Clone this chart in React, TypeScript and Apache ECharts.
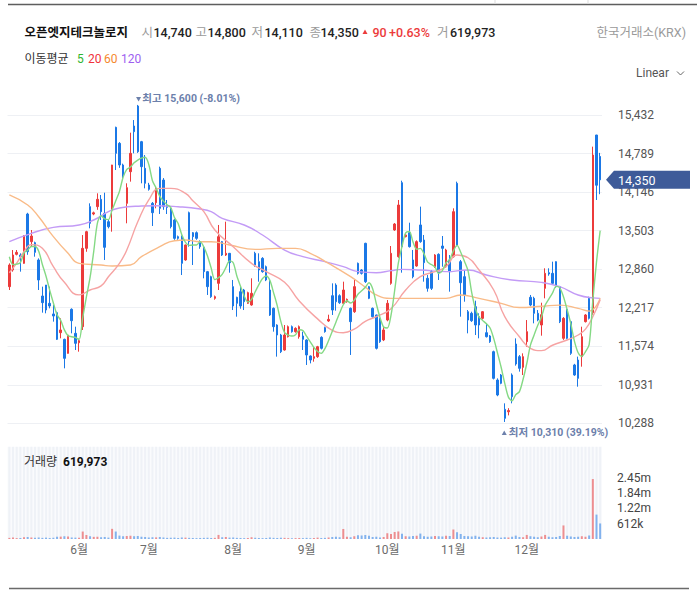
import React, { useEffect, useRef } from 'react';
import * as echarts from 'echarts';

// ---- data ----
const stockName = '오픈엣지테크놀로지';
const exchangeName = '한국거래소(KRX)';
const startDate = '2025-05-02';
const endDate = '2025-12-30';
const holidays = ['2025-05-05', '2025-05-06', '2025-06-03', '2025-06-06', '2025-08-15', '2025-10-03', '2025-10-06', '2025-10-07', '2025-10-08', '2025-10-09', '2025-12-25'];

const preCloses = [13750, 13100, 12950, 12600];

const opens = [
  12568, 12846, 13107, 13096, 12957, 13780, 13319, 13302, 13013, 12412,
  12595, 12290, 12112, 12134, 11800, 11689, 11455, 12190, 11789, 11633,
  11900, 13207, 13903, 13780, 13903, 14025, 13791, 13652, 13847, 15226,
  14959, 14598, 13958, 14486, 15248, 15582, 14987, 14542, 14264, 13958,
  13969, 14542, 14347, 13913, 13874, 13680, 13402, 13413, 13013, 13802,
  13468, 13468, 13319, 13224, 12818, 12734, 12373, 12623, 13319, 13096,
  13124, 12568, 12390, 12484, 12512, 12290, 12262, 13124, 12985, 13040,
  12901, 12512, 12206, 11928, 11761, 11511, 11733, 11900, 11817, 11733,
  11745, 11678, 11411, 11372, 11400, 11722, 11884, 11995, 12417, 12595,
  12417, 12290, 12317, 12206, 12150, 12957, 12846, 13291, 12568, 12206,
  12095, 12039, 11679, 12011, 12623, 13513, 13068, 14303, 13402, 13468,
  13013, 12913, 13597, 13346, 12707, 12818, 12901, 13107, 13246, 12901,
  13013, 13068, 14292, 12985, 12734, 12150, 12123, 12234, 12067, 12039,
  11800, 11745, 11483, 11010, 11094, 10521, 10480, 11094, 11611, 11400,
  11222, 11650, 12390, 12373, 12123, 11928, 12540, 12801, 12790, 12985,
  12568, 11706, 12190, 11984, 11261, 11344, 11400, 11984, 12373, 12134,
  15098, 14740,
];
const closes = [
  12929, 13096, 13140, 13068, 13418, 13152, 13413, 13140, 12679, 12301,
  12178, 12245, 12078, 11689, 11845, 11372, 11761, 12000, 11622, 11667,
  13207, 13485, 13625, 13800, 14025, 13819, 13224, 13569, 14598, 14792,
  14598, 14414, 14219, 14792, 15154, 14820, 14570, 14292, 14192, 13802,
  14203, 13875, 13903, 13891, 13569, 13374, 13374, 12957, 13263, 13319,
  13402, 13374, 13235, 12818, 12568, 12401, 12401, 13402, 13096, 13124,
  12968, 12245, 12290, 12245, 12317, 12468, 12457, 12929, 12846, 12818,
  12679, 12095, 11900, 11761, 11483, 11761, 11900, 11817, 11872, 11900,
  11689, 11428, 11344, 11400, 11566, 11539, 11817, 12022, 12178, 12317,
  12300, 12512, 12356, 11984, 12568, 12790, 12790, 12651, 12373, 12067,
  11539, 11650, 11845, 12290, 13124, 13613, 13930, 13235, 13430, 13235,
  12734, 13319, 13319, 12968, 12540, 12540, 13096, 12801, 13207, 13179,
  12818, 13819, 13263, 12634, 12429, 12011, 12000, 11928, 11928, 12150,
  11733, 11650, 11038, 10760, 10955, 10371, 10500, 10732, 11277, 11205,
  11400, 11817, 12262, 12123, 12011, 12100, 12790, 12779, 12623, 12568,
  11984, 12039, 11706, 11455, 11094, 11038, 11733, 12095, 12039, 14764,
  14260, 14350,
];
const lows = [
  12512, 12818, 13090, 12818, 12950, 13100, 13235, 13068, 12512, 12134,
  12123, 12206, 11984, 11678, 11706, 11205, 11450, 11789, 11511, 11483,
  11845, 13150, 13541, 13760, 13850, 13680, 13013, 13540, 13485, 14514,
  14550, 14350, 13625, 14320, 14792, 14800, 14292, 14208, 14170, 13580,
  13875, 13780, 13850, 13780, 13540, 13350, 13350, 12762, 13000, 13235,
  12929, 13350, 13200, 12707, 12429, 12380, 12350, 12512, 13080, 13080,
  12801, 12178, 12067, 12200, 12178, 12280, 12250, 12900, 12651, 12800,
  12660, 12080, 11817, 11400, 11460, 11500, 11720, 11800, 11800, 11700,
  11511, 11261, 11288, 11316, 11380, 11520, 11800, 11980, 12095, 12167,
  12280, 12270, 12300, 11428, 12130, 12770, 12770, 12630, 12360, 12050,
  11520, 11630, 11660, 11990, 12600, 13500, 13050, 12801, 13390, 13220,
  12707, 12900, 13300, 12651, 12484, 12512, 12880, 12679, 12901, 12880,
  12484, 13050, 13240, 12067, 12317, 11789, 11980, 11761, 11706, 12020,
  11720, 11630, 11020, 10740, 10940, 10310, 10420, 10621, 11250, 11150,
  11094, 11566, 12240, 11956, 11990, 11750, 12373, 12750, 12600, 12550,
  11960, 11680, 11690, 11430, 11080, 10899, 11233, 11970, 12020, 12100,
  14014, 14110,
];
const highs = [
  12957, 13179, 13179, 13124, 13429, 13800, 13513, 13319, 13040, 12568,
  12595, 12568, 12262, 12150, 12039, 11700, 11761, 12206, 11900, 11700,
  13429, 13500, 13958, 13820, 14125, 14097, 14136, 13680, 14600, 15237,
  14980, 14620, 14292, 15137, 15348, 15600, 15000, 14764, 14300, 13980,
  14236, 14570, 14380, 14014, 13900, 13700, 13420, 13420, 13270, 13820,
  13480, 13490, 13340, 13230, 12830, 12750, 12420, 13597, 13330, 13652,
  13130, 12679, 12400, 12568, 12530, 12484, 12707, 13150, 13124, 13060,
  12920, 12679, 12220, 11940, 11780, 11928, 11920, 11920, 11890, 11920,
  11817, 11690, 11420, 11566, 11580, 11740, 11900, 12100, 12623, 12623,
  12440, 12651, 12370, 12220, 12679, 12970, 12860, 13300, 12580, 12220,
  12100, 12050, 11900, 12345, 13246, 13630, 14014, 14336, 13450, 13635,
  13180, 13340, 13903, 13430, 12762, 12846, 13110, 13124, 13413, 13200,
  13096, 13875, 14320, 13013, 12846, 12178, 12150, 12334, 12123, 12160,
  11956, 11760, 11500, 11038, 11110, 10621, 10540, 11121, 11705, 11427,
  11455, 12011, 12429, 12400, 12178, 12300, 12874, 12874, 12985, 12990,
  12580, 12060, 12200, 12000, 11280, 11400, 11900, 12110, 12401, 14904,
  15100, 14800,
];
const volumes = [
  45000, 60000, 35000, 40000, 70000, 80000, 55000, 50000, 60000, 45000,
  55000, 40000, 50000, 90000, 95000, 110000, 100000, 60000, 55000, 50000,
  297000, 160000, 110000, 85000, 90000, 70000, 80000, 55000, 405000, 297000,
  135000, 110000, 120000, 130000, 110000, 120000, 90000, 80000, 60000, 70000,
  65000, 80000, 60000, 45000, 50000, 55000, 40000, 60000, 55000, 45000,
  40000, 35000, 40000, 45000, 50000, 40000, 45000, 162000, 70000, 80000,
  55000, 60000, 45000, 40000, 35000, 40000, 70000, 45000, 40000, 35000,
  40000, 60000, 45000, 40000, 50000, 45000, 35000, 30000, 35000, 40000,
  35000, 45000, 30000, 40000, 55000, 40000, 45000, 60000, 80000, 90000,
  70000, 400000, 90000, 70000, 110000, 150000, 140000, 160000, 130000, 80000,
  90000, 60000, 80000, 230000, 200000, 280000, 300000, 210000, 110000, 100000,
  120000, 130000, 216000, 110000, 90000, 100000, 120000, 110000, 100000, 130000,
  120000, 378000, 270000, 200000, 120000, 110000, 100000, 130000, 90000, 70000,
  60000, 70000, 80000, 60000, 55000, 70000, 60000, 90000, 135000, 80000,
  70000, 162000, 110000, 90000, 70000, 100000, 162000, 90000, 70000, 80000,
  120000, 540000, 130000, 100000, 80000, 90000, 110000, 90000, 140000, 2390000,
  973000, 619973,
];
// moving averages at [candle index, value]
const ma20Points = [
  [0, 12800], [2, 12960], [4, 13150], [6, 13270], [9, 13207], [12, 12901], [15, 12640], [19, 12430],
  [22, 12512], [25, 12580], [27, 12734], [30, 12957], [32, 13179], [35, 13650], [38, 14014], [41, 14208],
  [44, 14208], [48, 14125], [50, 14000], [53, 13819], [56, 13513], [61, 13235], [66, 12957], [70, 12818],
  [75, 12640], [79, 12330], [84, 12030], [88, 11840], [91, 11800], [94, 11860], [97, 11990], [100, 12067],
  [104, 12200], [108, 12512], [112, 12734], [116, 12818], [119, 12901], [122, 13096], [125, 13050], [128, 12846],
  [132, 12512], [135, 12067], [139, 11733], [142, 11540], [145, 11500], [148, 11590], [152, 11678], [155, 11761],
  [157, 11860], [159, 12067], [161, 12350],
];
const ma60Points = [
  [0, 14100], [5, 13930], [8, 13735], [12, 13402], [16, 13124], [19, 12957], [25, 12929], [28, 12912],
  [33, 12929], [36, 13068], [41, 13235], [45, 13335], [48, 13346], [52, 13318], [55, 13318], [60, 13263],
  [67, 13190], [73, 13207], [78, 13207], [82, 13124], [87, 12957], [93, 12734], [97, 12560], [100, 12430],
  [104, 12373], [110, 12373], [115, 12373], [119, 12373], [123, 12429], [128, 12373], [134, 12290], [139, 12220],
  [145, 12240], [150, 12260], [155, 12206], [158, 12160], [161, 12373],
];
const ma120Points = [
  [0, 13318], [6, 13458], [12, 13557], [19, 13596], [23, 13680], [27, 13819], [30, 13880], [36, 13913],
  [40, 13919], [46, 13902], [52, 13863], [55, 13819], [58, 13708], [64, 13597], [69, 13430], [75, 13179],
  [80, 13068], [86, 12985], [91, 12901], [95, 12818], [100, 12801], [104, 12835], [107, 12857], [112, 12846],
  [119, 12818], [125, 12846], [130, 12762], [137, 12679], [145, 12640], [150, 12568], [155, 12429], [159, 12380],
  [161, 12373],
];
const priceAxis = { min: 10288, max: 15432, step: 643 };
const volumeAxis = { step: 612490, steps: 6 };
const maLegend = ['5', '20', '60', '120'];

// ---- styles ----
const FONT = 'Roboto, "Noto Sans CJK KR", sans-serif';
const UP = '#ec3b3b';
const DOWN = '#1b78e6';
const VOL_UP = 'rgba(236, 80, 80, 0.62)';
const VOL_DOWN = 'rgba(40, 125, 230, 0.55)';
const MA_LINE = ['#84d984', '#f6a3a3', '#f9bb88', '#c39bf6'];
const MA_TEXT = ['#2fb52f', '#f0323c', '#f5892e', '#9d5ff0'];
const LABEL_BLUE = '#6c80ab';

function buildDates(): string[] {
  const out: string[] = [];
  const d = new Date(startDate + 'T00:00:00Z');
  const end = new Date(endDate + 'T00:00:00Z');
  while (d.getTime() <= end.getTime()) {
    const s = d.toISOString().slice(0, 10);
    const wd = d.getUTCDay();
    if (wd !== 0 && wd !== 6 && holidays.indexOf(s) < 0) out.push(s);
    d.setUTCDate(d.getUTCDate() + 1);
  }
  return out;
}

const fmt = (v: number) => v.toLocaleString('en-US');

export default function App() {
  const ref = useRef<HTMLDivElement>(null);
  useEffect(() => {
    const el = ref.current;
    if (!el) return;
    const chart = echarts.init(el, undefined, { renderer: 'svg' });
    const n = closes.length;
    const dates = buildDates().slice(0, n);
    const candle = opens.map((o, i) => [o, closes[i], lows[i], highs[i]]);
    const all = [...preCloses, ...closes];
    const ma5 = closes.map((_, i) => {
      const s = all.slice(i, i + 5);
      return Math.round(s.reduce((a, b) => a + b, 0) / s.length);
    });
    const volData = volumes.map((v, i) => ({
      value: v,
      itemStyle: { color: closes[i] >= opens[i] ? VOL_UP : VOL_DOWN },
    }));
    const monthStart = (i: number) => i > 0 && dates[i].slice(5, 7) !== dates[i - 1].slice(5, 7);

    chart.setOption({
      animation: false,
      backgroundColor: '#ffffff',
      grid: [
        { left: 7.5, top: 115, width: 594.5, height: 308.3 },
        { left: 7.5, top: 446.8, width: 594.5, height: 92.2, show: true, backgroundColor: '#fafbfd', borderWidth: 0 },
      ],
      xAxis: [
        {
          type: 'category', gridIndex: 0, data: dates, boundaryGap: true,
          axisLine: { show: false }, axisTick: { show: false }, axisLabel: { show: false }, splitLine: { show: false },
        },
        {
          type: 'category', gridIndex: 1, data: dates, boundaryGap: true,
          axisLine: { show: false }, axisTick: { show: false }, splitLine: { show: false },
          axisLabel: {
            interval: (i: number) => monthStart(i),
            formatter: (v: string) => `${parseInt(v.slice(5, 7), 10)}월`,
            color: '#6b6b6b', fontSize: 12, fontFamily: FONT, margin: 5,
          },
        },
      ],
      yAxis: [
        {
          type: 'value', gridIndex: 0, position: 'right', scale: true,
          min: priceAxis.min, max: priceAxis.max, interval: priceAxis.step,
          axisLine: { show: false }, axisTick: { show: false },
          axisLabel: { color: '#555', fontSize: 12, fontFamily: FONT, margin: 16, formatter: (v: number) => fmt(v) },
          splitLine: { lineStyle: { color: '#eef0f4', width: 1 } },
        },
        {
          type: 'value', gridIndex: 1, position: 'right',
          min: 0, max: volumeAxis.step * volumeAxis.steps, interval: volumeAxis.step,
          axisLine: { show: false }, axisTick: { show: false }, splitLine: { show: false },
          axisLabel: {
            color: '#444', fontSize: 12, fontFamily: FONT, margin: 15,
            formatter: (v: number) => {
              if (v <= 0 || v > volumeAxis.step * 4.5) return '';
              return v < 1e6 ? `${Math.round(v / 1000)}k` : `${(v / 1e6).toFixed(2)}m`;
            },
          },
        },
      ],
      series: [
        {
          type: 'candlestick', xAxisIndex: 0, yAxisIndex: 0, data: candle, barWidth: 2, clip: false,
          itemStyle: { color: UP, color0: DOWN, borderColor: UP, borderColor0: DOWN, borderWidth: 1 },
        },
        { type: 'line', xAxisIndex: 0, yAxisIndex: 0, data: ma120Points, symbol: 'none', smooth: true, lineStyle: { color: MA_LINE[3], width: 1.4 } },
        { type: 'line', xAxisIndex: 0, yAxisIndex: 0, data: ma60Points, symbol: 'none', smooth: true, lineStyle: { color: MA_LINE[2], width: 1.4 } },
        { type: 'line', xAxisIndex: 0, yAxisIndex: 0, data: ma20Points, symbol: 'none', smooth: true, lineStyle: { color: MA_LINE[1], width: 1.4 } },
        { type: 'line', xAxisIndex: 0, yAxisIndex: 0, data: ma5, symbol: 'none', smooth: 0.3, lineStyle: { color: MA_LINE[0], width: 1.4 } },
        {
          type: 'bar', xAxisIndex: 1, yAxisIndex: 1, data: volData, barWidth: 2,
          showBackground: true, backgroundStyle: { color: 'rgba(226, 231, 240, 0.45)' },
        },
      ],
    });

    // annotations positioned through the chart's own scales
    const last = n - 1;
    const lastClose = closes[last];
    const prevClose = closes[last - 1];
    let hiIdx = 0, loIdx = 0;
    highs.forEach((h, i) => { if (h > highs[hiIdx]) hiIdx = i; });
    lows.forEach((l, i) => { if (l < lows[loIdx]) loIdx = i; });
    const hp = chart.convertToPixel({ gridIndex: 0 }, [hiIdx, highs[hiIdx]]) as number[];
    const lp = chart.convertToPixel({ gridIndex: 0 }, [loIdx, lows[loIdx]]) as number[];
    const ty = chart.convertToPixel({ yAxisIndex: 0 }, lastClose) as number;
    const hiPct = ((lastClose - highs[hiIdx]) / highs[hiIdx]) * 100;
    const loPct = ((lastClose - lows[loIdx]) / lows[loIdx]) * 100;
    const diff = lastClose - prevClose;
    const diffPct = (diff / prevClose) * 100;

    const txt = (x: number, y: number, text: string, fill: string, size: number, weight: string | number = 'normal', align = 'left', z = 50) => ({
      type: 'text', x, y, z, silent: true,
      style: { text, fill, font: `${weight} ${size}px ${FONT}`, textAlign: align, textVerticalAlign: 'middle' },
    });
    const tri = (cx: number, cy: number, down: boolean, fill: string) => ({
      type: 'polygon', z: 50, silent: true,
      shape: { points: down ? [[cx - 2.5, cy - 2], [cx + 2.5, cy - 2], [cx, cy + 2.5]] : [[cx - 2.5, cy + 2], [cx + 2.5, cy + 2], [cx, cy - 2.5]] },
      style: { fill },
    });

    const hy = 32;
    const graphics: any[] = [
      { type: 'line', z: 50, shape: { x1: 8, y1: 4.5, x2: 697, y2: 4.5 }, style: { stroke: '#5e5e5e', lineWidth: 1.5 } },
      { type: 'line', z: 50, shape: { x1: 495, y1: 0, x2: 495, y2: 4 }, style: { stroke: '#dddddd', lineWidth: 1 } },
      { type: 'line', z: 50, shape: { x1: 588, y1: 0, x2: 588, y2: 4 }, style: { stroke: '#dddddd', lineWidth: 1 } },
      { type: 'line', z: 50, shape: { x1: 9, y1: 588.5, x2: 689, y2: 588.5 }, style: { stroke: '#6a6a6a', lineWidth: 1.5 } },
      txt(24.5, hy, stockName, '#111', 12.5, 'bold'),
      txt(141.5, hy, '시', '#9a9a9a', 12.5),
      txt(153.5, hy, fmt(opens[last]), '#222', 12.5, 500),
      txt(195.5, hy, '고', '#9a9a9a', 12.5),
      txt(207.5, hy, fmt(highs[last]), '#222', 12.5, 500),
      txt(251.5, hy, '저', '#9a9a9a', 12.5),
      txt(264.5, hy, fmt(lows[last]), '#222', 12.5, 500),
      txt(309.5, hy, '종', '#9a9a9a', 12.5),
      txt(320.5, hy, fmt(lastClose), '#222', 12.5, 500),
      tri(365, hy, diff < 0, diff >= 0 ? UP : DOWN),
      txt(372.5, hy, fmt(Math.abs(diff)), UP, 12.5, 500),
      txt(389, hy, `${diff >= 0 ? '+' : '-'}${Math.abs(diffPct).toFixed(2)}%`, UP, 12.5, 500),
      txt(437, hy, '거', '#9a9a9a', 12.5),
      txt(450, hy, fmt(volumes[last]), '#222', 12.5, 500),
      txt(686, hy, exchangeName, '#9a9a9a', 12.5, 'normal', 'right'),
      txt(24.5, 59, '이동평균', '#333', 12),
      txt(77, 59, maLegend[0], MA_TEXT[0], 12),
      txt(88, 59, maLegend[1], MA_TEXT[1], 12),
      txt(104, 59, maLegend[2], MA_TEXT[2], 12),
      txt(121, 59, maLegend[3], MA_TEXT[3], 12),
      txt(636, 73, 'Linear', '#555', 12),
      { type: 'polyline', z: 50, shape: { points: [[677, 71.5], [680.5, 75], [684, 71.5]] }, style: { stroke: '#666', lineWidth: 1, fill: 'none' } },
      txt(24, 462, '거래량', '#333', 12),
      txt(63, 462, fmt(volumes[last]), '#111', 12, 'bold'),
      // high / low markers
      tri(hp[0] + 0.8, hp[1] - 6, true, LABEL_BLUE),
      txt(hp[0] + 4.5, hp[1] - 6, `최고 ${fmt(highs[hiIdx])} (${hiPct.toFixed(2)}%)`, LABEL_BLUE, 10.5, 'bold'),
      tri(lp[0] - 0.5, lp[1] + 11, false, LABEL_BLUE),
      txt(lp[0] + 4, lp[1] + 11, `최저 ${fmt(lows[loIdx])} (${loPct.toFixed(2)}%)`, LABEL_BLUE, 10.5, 'bold'),
      // current price tag
      {
        type: 'polygon', z: 100,
        shape: { points: [[606, ty], [614, ty - 9], [690, ty - 9], [690, ty + 9], [614, ty + 9]] },
        style: { fill: '#3e5b99' },
      },
      txt(618, ty + 0.5, fmt(lastClose), '#ffffff', 12.5, 'normal', 'left', 101),
    ];
    chart.setOption({ graphic: graphics });

    return () => chart.dispose();
  }, []);
  return <div ref={ref} style={{ position: 'fixed', left: 0, top: 0, width: 697, height: 594, background: '#fff' }} />;
}
